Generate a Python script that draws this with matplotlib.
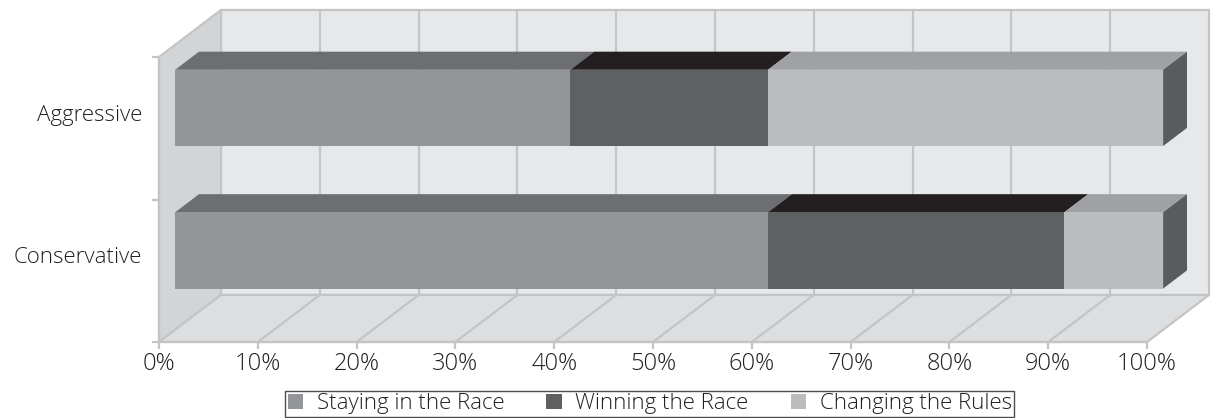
import matplotlib
matplotlib.use("Agg")
import matplotlib.pyplot as plt
from matplotlib.patches import Polygon, Patch

# data
categories = ["Conservative", "Aggressive"]
series = ["Staying in the Race", "Winning the Race", "Changing the Rules"]
staying = [60, 40]
winning = [30, 20]
changing = [10, 40]
values = [staying, winning, changing]
xticks = list(range(0, 101, 10))
xticklabels = [f"{v}%" for v in xticks]

# colours
front_c = ["#939598", "#5f6062", "#bbbcbe"]
top_c = ["#6d6e71", "#231f20", "#a0a1a4"]
side_c = ["#58595b", "#3a3a3c", "#5a5b5d"]
back_wall = "#e7e8e9"
left_wall = "#d3d4d6"
floor_c = "#dddee0"
edge_c = "#c3c4c6"
text_c = "#231f20"

plt.rcParams["font.family"] = ["Open Sans", "DejaVu Sans"]
plt.rcParams["font.weight"] = "light"

W, H = 1212, 418
fig = plt.figure(figsize=(W / 100, H / 100), dpi=100)
ax = fig.add_axes([159 / W, 1 - 342 / H, 988 / W, 285 / H])
ax.set_xlim(0, 100)
ax.set_ylim(0, 2)

# depth vector of the 3d box (in data units)
dx, dy = 6.275, 0.33
f0, f1 = 0.26, 0.645      # bar front / back depth fractions
bar_h = 0.535
bar_off = 0.057


def poly(pts, fc, ec="none", lw=0, z=1):
    p = Polygon(pts, closed=True, facecolor=fc, edgecolor=ec, linewidth=lw,
                clip_on=False, zorder=z, joinstyle="miter")
    ax.add_patch(p)


# walls
poly([(dx, dy), (100 + dx, dy), (100 + dx, 2 + dy), (dx, 2 + dy)], back_wall, edge_c, 1.6, 0.5)
poly([(0, 0), (dx, dy), (dx, 2 + dy), (0, 2)], left_wall, edge_c, 1.6, 0.6)
poly([(0, 0), (100, 0), (100 + dx, dy), (dx, dy)], floor_c, edge_c, 1.6, 0.6)

for v in xticks[1:-1]:
    ax.plot([v + dx, v + dx], [dy, 2 + dy], color=edge_c, lw=1.6, zorder=0.8, clip_on=False)
    ax.plot([v, v + dx], [0, dy], color=edge_c, lw=1.6, zorder=0.8, clip_on=False)

# bars
for i, cat in enumerate(categories):
    yc = i + 0.5 + bar_off
    y0, y1 = yc - bar_h / 2, yc + bar_h / 2
    left = 0
    for s in range(len(series)):
        w = values[s][i]
        x0, x1 = left, left + w
        ax0, ax1 = x0 + f0 * dx, x1 + f0 * dx
        bx0, bx1 = x0 + f1 * dx, x1 + f1 * dx
        fy0, fy1 = y0 + f0 * dy, y1 + f0 * dy
        by1 = y1 + f1 * dy
        by0 = y0 + f1 * dy
        poly([(ax0, fy1), (ax1, fy1), (bx1, by1), (bx0, by1)], top_c[s], z=2)
        if s == len(series) - 1:
            poly([(ax1, fy0), (ax1, fy1), (bx1, by1), (bx1, by0)], side_c[s], z=2)
        poly([(ax0, fy0), (ax1, fy0), (ax1, fy1), (ax0, fy1)], front_c[s], z=3)
        left = x1
    ax.text(-1.72, i + 0.59, cat, ha="right", va="center", fontsize=16,
            color=text_c, clip_on=False)

# axes
for sp in ["top", "right"]:
    ax.spines[sp].set_visible(False)
for sp in ["left", "bottom"]:
    ax.spines[sp].set_color(edge_c)
    ax.spines[sp].set_linewidth(1.6)
ax.set_xticks(xticks)
ax.set_xticklabels(xticklabels)
ax.set_yticks([0, 1, 2])
ax.set_yticklabels([])
ax.tick_params(direction="out", length=5, width=1.6, color=edge_c,
               labelsize=17, labelcolor=text_c, pad=2)
ax.patch.set_visible(False)

handles = [Patch(facecolor=front_c[s], edgecolor="none", label=series[s])
           for s in range(len(series))]
leg = fig.legend(handles=handles, loc="lower left", bbox_to_anchor=(285 / W, 1 / H),
                 ncol=3, frameon=True, fancybox=False, fontsize=16,
                 handlelength=0.7, handleheight=0.7, handletextpad=0.6,
                 columnspacing=1.9, borderpad=0.12, borderaxespad=0)
leg.get_frame().set_edgecolor(text_c)
leg.get_frame().set_linewidth(1.0)
for t in leg.get_texts():
    t.set_color(text_c)

fig.savefig("out.png", dpi=100)
